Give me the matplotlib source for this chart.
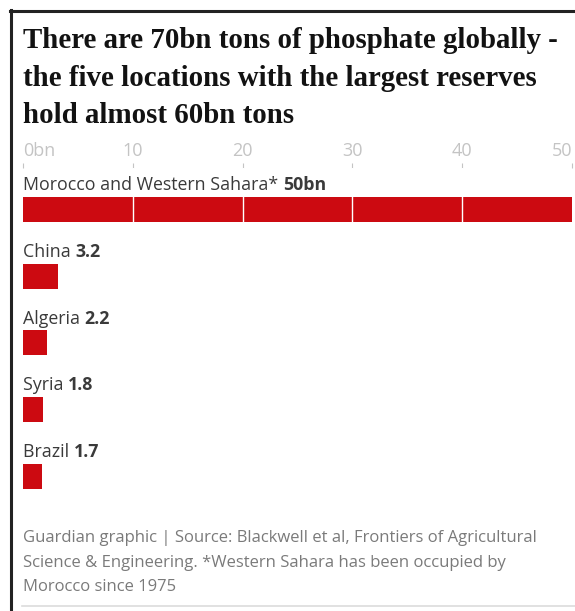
import matplotlib.pyplot as plt
from matplotlib.lines import Line2D

# data
countries = ["Morocco and Western Sahara*", "China", "Algeria", "Syria", "Brazil"]
reserves = [50, 3.2, 2.2, 1.8, 1.7]
value_labels = ["50bn", "3.2", "2.2", "1.8", "1.7"]
ticks = [0, 10, 20, 30, 40, 50]
tick_labels = ["0bn", "10", "20", "30", "40", "50"]

title = ("There are 70bn tons of phosphate globally -\n"
         "the five locations with the largest reserves\n"
         "hold almost 60bn tons")
footer = ("Guardian graphic | Source: Blackwell et al, Frontiers of Agricultural\n"
          "Science & Engineering. *Western Sahara has been occupied by\n"
          "Morocco since 1975")

W, H = 575, 611
red = "#cc0a11"
sans = "Open Sans"

fig = plt.figure(figsize=(W / 100, H / 100), dpi=100)
fig.patch.set_facecolor("white")

def fx(px):
    return px / W

def fy(py):
    return 1 - py / H

# frame lines
fig.add_artist(Line2D([fx(11), fx(11)], [fy(10), 0], color="#222222", lw=2.2))
fig.add_artist(Line2D([fx(10), 1], [fy(11), fy(11)], color="#222222", lw=2.2))
fig.add_artist(Line2D([fx(22), 1], [fy(606), fy(606)], color="#dcdcdc", lw=1.2))

fig.text(fx(23), fy(27), title, ha="left", va="top", family="Liberation Serif",
         weight="bold", fontsize=20.8, color="#121212", linespacing=1.5)

ax = fig.add_axes([fx(23), fy(500), fx(572) - fx(23), fy(168) - fy(500)])
y = list(range(len(countries)))
ax.barh(y, reserves, height=0.375, color=red, zorder=1)
ax.set_xlim(0, 50)
ax.set_ylim(4.36, -0.622)
for s in ax.spines.values():
    s.set_visible(False)
ax.set_yticks([])
ax.xaxis.tick_top()
ax.set_xticks(ticks)
ax.set_xticklabels(tick_labels, family=sans, fontsize=13, color="#c4c4c4")
ax.tick_params(axis="x", length=3.5, width=0.8, color="#c4c4c4", pad=2)
for lbl in ax.get_xticklabels():
    lbl.set_horizontalalignment("center")
ax.get_xticklabels()[0].set_horizontalalignment("left")
ax.get_xticklabels()[-1].set_horizontalalignment("right")
for t in ticks[1:-1]:
    ax.axvline(t, color="white", lw=1, zorder=2)

for i, (name, val) in enumerate(zip(countries, value_labels)):
    txt = ax.text(0, i - 0.36, name + " ", ha="left", va="center",
                  family=sans, fontsize=12.8, color="#3a3a3a")
    ax.annotate(val, xy=(1, 0.5), xycoords=txt, ha="left", va="center",
                family=sans, fontsize=12.8, weight="bold", color="#3a3a3a")

fig.text(fx(23), fy(530), footer, ha="left", va="top", family=sans,
         fontsize=12, color="#7a7a7a", linespacing=1.72)

fig.savefig("out.png", dpi=100)
